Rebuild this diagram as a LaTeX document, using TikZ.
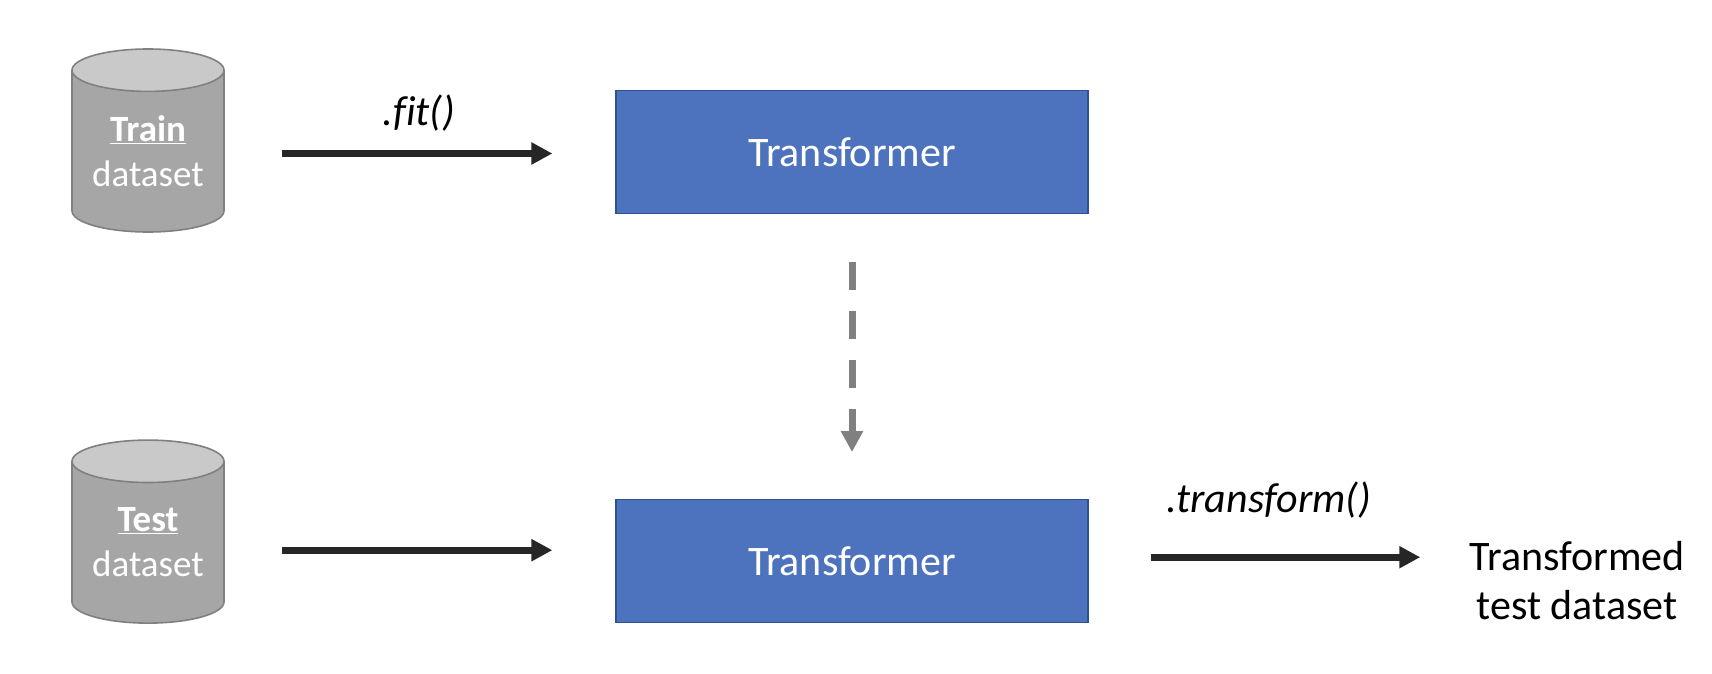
\documentclass[tikz,border=0pt]{standalone}
\usepackage{fontspec}
\setmainfont{Carlito}
\usetikzlibrary{arrows.meta,positioning,shapes.geometric}
\definecolor{boxblue}{HTML}{4E73BE}
\definecolor{boxedge}{HTML}{2F528F}

\begin{document}
\begin{tikzpicture}[
    x=1pt, y=-1pt,
    db/.style={cylinder, shape border rotate=90, aspect=0.38, draw=black!50, line width=1.6pt, cylinder uses custom fill, cylinder body fill=black!35, cylinder end fill=black!21, minimum width=152pt, minimum height=183pt, inner sep=0pt, align=center, text=white, font=\fontsize{37}{45}\selectfont},
    box/.style={draw=boxedge, line width=1.2pt, fill=boxblue, minimum width=472pt, minimum height=123pt, text=white, font=\fontsize{42}{46}\selectfont},
    arrow/.style={-{Triangle[length=21pt,width=21pt]}, line width=7pt, draw=black!85},
    method/.style={font=\itshape\fontsize{42}{44}\selectfont\addfontfeatures{Ligatures=CommonOff}, inner sep=0pt}
  ]
    \useasboundingbox (0,0) rectangle (1712,674);
    \node[db] (train) at (148,151.5) {\underline{\textbf{Train}}\\dataset};
    \node[db, below=206.5pt of train] (test) {\underline{\textbf{Test}}\\dataset};
    \node[box] (fitbox) at (852,152) {Transformer};
    \node[box, below=285pt of fitbox] (transbox) {Transformer};
    \node[align=center, inner sep=0pt, font=\fontsize{42}{49}\selectfont] (result) at (1577,581) {Transformed\\test dataset};
    \node[method] (fit) at (419,113) {.fit()};
    \node[method] (transform) at (1269,500) {.transform()};
    \draw[arrow, shorten <=57pt, shorten >=63pt] ([yshift=-1.5pt]fitbox.west -| train.east) -- ([yshift=-1.5pt]fitbox.west);
    \draw[arrow, shorten <=57pt, shorten >=63pt] ([yshift=11pt]transbox.west -| test.east) -- ([yshift=11pt]transbox.west);
    \draw[arrow, shorten <=62pt, shorten >=49pt] ([yshift=4pt]transbox.east) -- ([yshift=4pt]transbox.east -| result.west);
    \draw[arrow, draw=black!50, dash pattern=on 28pt off 21pt, shorten <=48pt, shorten >=47pt] (fitbox.south) -- (transbox.north);
  \end{tikzpicture}
\end{document}
